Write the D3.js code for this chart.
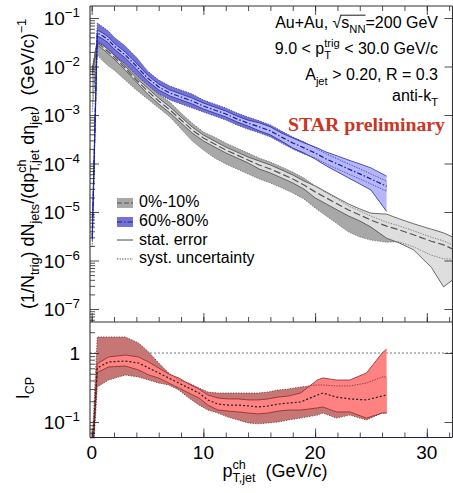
<!DOCTYPE html>
<html>
<head>
<meta charset="utf-8">
<script src="https://cdn.jsdelivr.net/npm/d3@7"></script>
<style>
body { margin: 0; background: #fff; }
svg { display: block; font-family: "Liberation Sans", Arial, Helvetica, sans-serif; }
text { white-space: pre; }
</style>
</head>
<body>
<svg id="fig" width="453" height="493"></svg>
<script>
// ---- values ----
// 60%-80% (blue)
var ptB = [0.05, 0.5, 1, 1.5, 2, 3, 4, 5, 6, 7, 8, 9, 10, 11, 12, 13, 14, 15, 16, 17, 18, 19, 20, 21, 22, 23, 24, 25, 26.4];
var blueVal = [2.9e-6, 0.0491, 0.0426, 0.0352, 0.0265, 0.0173, 0.0102, 0.0058, 0.00378, 0.00284, 0.00235, 0.00194, 0.00153, 0.00127, 0.00105, 8.3e-4, 6.8e-4, 5.7e-4, 4.7e-4, 3.5e-4, 2.65e-4, 2.1e-4, 1.65e-4, 1.24e-4, 9.8e-5, 7.7e-5, 6.1e-5, 4.8e-5, 3.4e-5];
// error bands given as multiplicative factors (hi = v*up, lo = v/dn)
var blueSys = [1.53, 1.61, 1.53, 1.53, 1.53, 1.53, 1.53, 1.39, 1.39, 1.39, 1.39, 1.39, 1.33, 1.33, 1.33, 1.33, 1.33, 1.33, 1.33, 1.33, 1.33, 1.33, 1.27, 1.27, 1.27, 1.27, 1.27, 1.27, 1.27];
var blueStatUp = [1.15, 1.15, 1.15, 1.15, 1.15, 1.15, 1.15, 1.15, 1.15, 1.15, 1.15, 1.15, 1.15, 1.15, 1.15, 1.15, 1.15, 1.21, 1.21, 1.21, 1.27, 1.27, 1.33, 1.39, 1.46, 1.53, 1.61, 1.69, 1.61];
var blueStatDn = [1.15, 1.15, 1.15, 1.15, 1.15, 1.15, 1.15, 1.15, 1.15, 1.15, 1.15, 1.15, 1.15, 1.15, 1.15, 1.15, 1.15, 1.21, 1.21, 1.21, 1.27, 1.27, 1.33, 1.39, 1.46, 1.53, 1.61, 1.69, 3.3];

// 0%-10% (gray)
var ptG = [0.05, 0.5, 1, 1.5, 2, 3, 4, 5, 6, 7, 8, 9, 10, 11, 12, 13, 14, 15, 16, 17, 18, 19, 20, 21, 22, 23, 24, 25, 26.4, 27.5, 28.8, 30.4, 31.5, 32.3];
var grayVal = [7.7e-3, 0.0305, 0.0252, 0.0199, 0.0157, 0.0093, 0.00527, 0.00313, 0.00194, 0.00127, 7.9e-4, 4.9e-4, 3.36e-4, 2.52e-4, 1.90e-4, 1.50e-4, 1.18e-4, 9.3e-5, 7.7e-5, 6.1e-5, 4.8e-5, 3.6e-5, 2.6e-5, 1.95e-5, 1.46e-5, 1.10e-5, 8.7e-6, 6.8e-6, 5.1e-6, 4.3e-6, 3.4e-6, 2.5e-6, 2.1e-6, 1.73e-6];
var graySysUp = [1.27, 1.15, 1.15, 1.15, 1.15, 1.21, 1.27, 1.33, 1.39, 1.46, 1.39, 1.39, 1.33, 1.39, 1.39, 1.39, 1.39, 1.39, 1.39, 1.39, 1.39, 1.39, 1.33, 1.27, 1.27, 1.21, 1.21, 1.21, 1.21, 1.21, 1.21, 1.21, 1.21, 1.21];
var graySysDn = [6.7, 1.77, 1.94, 1.94, 1.85, 1.77, 1.61, 1.46, 1.39, 1.39, 1.53, 1.69, 1.77, 1.94, 1.94, 1.94, 1.94, 1.94, 1.94, 1.94, 1.94, 1.94, 2.14, 2.35, 2.58, 2.84, 2.84, 2.58, 2.14, 1.77, 1.77, 1.94, 1.94, 1.61];
var grayStatUp = [1.10, 1.10, 1.10, 1.10, 1.10, 1.10, 1.10, 1.15, 1.15, 1.15, 1.15, 1.15, 1.15, 1.15, 1.15, 1.15, 1.15, 1.21, 1.21, 1.21, 1.21, 1.21, 1.33, 1.33, 1.33, 1.33, 1.33, 1.39, 1.77, 1.69, 1.69, 1.77, 1.77, 1.77];
var grayStatDn = [1.10, 1.10, 1.10, 1.10, 1.10, 1.10, 1.10, 1.15, 1.15, 1.15, 1.15, 1.15, 1.15, 1.15, 1.15, 1.15, 1.15, 1.21, 1.21, 1.21, 1.21, 1.21, 1.33, 1.33, 1.33, 1.33, 1.33, 1.39, 1.77, 1.85, 2.04, 3.44, 7.36, 4.36];

// I_CP (red)
var ptR = [0.05, 0.5, 1.5, 3, 4.2, 5.1, 6, 6.9, 7.8, 8.7, 9.6, 10.4, 11.3, 12.2, 13.1, 14, 14.9, 15.8, 16.7, 17.6, 18.7, 20.2, 20.7, 21.9, 23.1, 24.6, 26, 26.4];
var icpVal = [0.03, 0.607, 0.741, 0.765, 0.716, 0.607, 0.513, 0.434, 0.367, 0.311, 0.263, 0.209, 0.182, 0.176, 0.176, 0.171, 0.165, 0.171, 0.182, 0.188, 0.195, 0.246, 0.263, 0.230, 0.216, 0.209, 0.238, 0.246];
var icpStatHi = [0.035, 0.70, 0.875, 0.935, 0.875, 0.741, 0.607, 0.496, 0.434, 0.355, 0.301, 0.246, 0.223, 0.216, 0.216, 0.209, 0.209, 0.216, 0.230, 0.238, 0.263, 0.406, 0.434, 0.406, 0.406, 0.513, 1.0, 1.14];
var icpStatLo = [0.025, 0.52, 0.627, 0.648, 0.567, 0.480, 0.434, 0.367, 0.311, 0.263, 0.223, 0.176, 0.149, 0.144, 0.140, 0.135, 0.131, 0.135, 0.144, 0.149, 0.149, 0.160, 0.165, 0.140, 0.140, 0.114, 0.135, 0.135];
var icpSysHi = [0.05, 1.705, 1.705, 1.705, 1.396, 1.034, 0.716, 0.513, 0.406, 0.367, 0.311, 0.272, 0.263, 0.263, 0.263, 0.263, 0.263, 0.272, 0.291, 0.301, 0.322, 0.344, 0.344, 0.333, 0.333, 0.367, 0.449, 0.449];
var icpSysLo = [0.02, 0.322, 0.406, 0.480, 0.449, 0.406, 0.367, 0.344, 0.291, 0.223, 0.176, 0.149, 0.135, 0.118, 0.107, 0.097, 0.094, 0.097, 0.100, 0.107, 0.114, 0.126, 0.135, 0.114, 0.126, 0.107, 0.135, 0.135];

var xMajor = [0, 10, 20, 30];
var xMinor = d3.range(0, 33, 2);
var topDecades = [-7, -6, -5, -4, -3, -2, -1];

// ---- layout ----
var svg = d3.select("#fig");
var L = 90, R = 452.5, T1 = 6, B1 = 322, B2 = 437.5;

var x = d3.scaleLinear().domain([-0.15, 32.3]).range([L, R]);
var yTop = d3.scaleLog()
    .domain([Math.pow(10, -1 - (B1 - 18) / 48.5), Math.pow(10, -1 + (18 - T1) / 48.5)])
    .range([B1, T1]);
var yBot = d3.scaleLog()
    .domain([Math.pow(10, -(B2 - 353) / 69), Math.pow(10, (353 - B1) / 69)])
    .range([B2, B1]);

var defs = svg.append("defs");
defs.append("clipPath").attr("id", "cTop").append("rect")
    .attr("x", L).attr("y", T1).attr("width", R - L).attr("height", B1 - T1);
defs.append("clipPath").attr("id", "cBot").append("rect")
    .attr("x", L).attr("y", B1).attr("width", R - L).attr("height", B2 - B1);

// superscript / subscript helper, parts = [text, mode(1 sup,-1 sub), stackedUnderPrevious]
function rich(t, parts, fs) {
    var cur = 0, prevLen = 0, carry = 0;
    parts.forEach(function (p) {
        var m = p[1] || 0;
        var target = m > 0 ? -0.42 * fs : m < 0 ? 0.3 * fs : 0;
        var ts = t.append("tspan")
            .attr("font-size", m ? fs * 0.7 : fs)
            .attr("dy", target - cur)
            .text(p[0]);
        cur = target;
        var len = ts.node().getComputedTextLength();
        if (p[2]) {
            ts.attr("dx", -prevLen);
            carry = Math.max(0, prevLen - len);
        } else {
            if (carry) ts.attr("dx", carry);
            carry = 0;
        }
        prevLen = len;
    });
    return t;
}

function makeRows(pt, v, sUp, sDn, tUp, tDn) {
    return pt.map(function (p, i) {
        return { pt: p, v: v[i], sHi: v[i] * sUp[i], sLo: v[i] / sDn[i], tHi: v[i] * tUp[i], tLo: v[i] / tDn[i] };
    });
}

function drawBand(g, rows, y, st) {
    var area = function (lo, hi) {
        return d3.area().x(function (d) { return x(d.pt); })
            .y0(function (d) { return y(d[lo]); })
            .y1(function (d) { return y(d[hi]); });
    };
    var line = function (k) {
        return d3.line().x(function (d) { return x(d.pt); }).y(function (d) { return y(d[k]); });
    };
    g.append("path").datum(rows).attr("d", area("sLo", "sHi")).attr("fill", st.sysFill);
    g.append("path").datum(rows).attr("d", area("tLo", "tHi")).attr("fill", st.statFill);
    ["tLo", "tHi"].forEach(function (k) {
        g.append("path").datum(rows).attr("d", line(k)).attr("fill", "none")
            .attr("stroke", st.statLine).attr("stroke-width", 0.8);
    });
    ["sLo", "sHi"].forEach(function (k) {
        g.append("path").datum(rows).attr("d", line(k)).attr("fill", "none")
            .attr("stroke", st.sysLine).attr("stroke-width", 0.8).attr("stroke-dasharray", "1.3,1.3");
    });
    g.append("path").datum(rows).attr("d", line("v")).attr("fill", "none")
        .attr("stroke", st.line).attr("stroke-width", st.lw).attr("stroke-dasharray", st.dash);
}

var grayStyle = { sysFill: "#a8a8a8", statFill: "#dedede", statLine: "#4a4a4a", sysLine: "#6a6a6a", line: "#555", lw: 1.2, dash: "7,3" };
var blueStyle = { sysFill: "rgba(96,96,208,0.88)", statFill: "#b6b6fa", statLine: "#2a2a9c", sysLine: "#2f2fb0", line: "#1a1a98", lw: 1.2, dash: "5,2,1.5,2" };
var redStyle = { sysFill: "#c77676", statFill: "#ff8282", statLine: "#8e2828", sysLine: "#6e2a2a", line: "#222", lw: 1.2, dash: "2,2" };

// ---- top panel ----
var gTop = svg.append("g").attr("clip-path", "url(#cTop)");
drawBand(gTop, makeRows(ptG, grayVal, graySysUp, graySysDn, grayStatUp, grayStatDn), yTop, grayStyle);
drawBand(gTop, makeRows(ptB, blueVal, blueSys, blueSys, blueStatUp, blueStatDn), yTop, blueStyle);

// ---- bottom panel ----
var gBot = svg.append("g").attr("clip-path", "url(#cBot)");
gBot.append("line").attr("x1", L).attr("x2", R).attr("y1", yBot(1)).attr("y2", yBot(1))
    .attr("stroke", "#777").attr("stroke-width", 1).attr("stroke-dasharray", "2,2");
var icpRows = ptR.map(function (p, i) {
    return { pt: p, v: icpVal[i], sHi: icpSysHi[i], sLo: icpSysLo[i], tHi: icpStatHi[i], tLo: icpStatLo[i] };
});
drawBand(gBot, icpRows, yBot, redStyle);

// ---- axes / ticks ----
function noDomain(g) { g.select(".domain").remove(); g.selectAll("text").remove(); }
function xTicks(yPos, up) {
    var ax = up ? d3.axisTop : d3.axisBottom;
    svg.append("g").attr("transform", "translate(0," + yPos + ")")
        .call(ax(x).tickValues(xMinor).tickSize(5)).call(noDomain);
    svg.append("g").attr("transform", "translate(0," + yPos + ")")
        .call(ax(x).tickValues(xMajor).tickSize(9)).call(noDomain);
}
xTicks(B1, true);
xTicks(T1, false);
xTicks(B2, true);

function yTicks(y) {
    var all = y.ticks();
    var major = all.filter(function (v) { return Math.abs(Math.log10(v) - Math.round(Math.log10(v))) < 1e-6; });
    var minor = all.filter(function (v) { return major.indexOf(v) < 0; });
    svg.append("g").attr("transform", "translate(" + L + ",0)")
        .call(d3.axisRight(y).tickValues(minor).tickSize(5)).call(noDomain);
    svg.append("g").attr("transform", "translate(" + L + ",0)")
        .call(d3.axisRight(y).tickValues(major).tickSize(9)).call(noDomain);
    svg.append("g").attr("transform", "translate(" + R + ",0)")
        .call(d3.axisLeft(y).tickValues(major).tickSize(8)).call(noDomain);
}
yTicks(yTop);
yTicks(yBot);

svg.selectAll(".tick line").attr("stroke", "#222").attr("stroke-width", 0.8);

// frame
var frame = svg.append("g").attr("fill", "none").attr("stroke-width", 1.1);
frame.append("line").attr("x1", L).attr("x2", R).attr("y1", T1).attr("y2", T1).attr("stroke", "#333");
frame.append("line").attr("x1", L).attr("x2", R).attr("y1", B1).attr("y2", B1).attr("stroke", "#333");
frame.append("line").attr("x1", L).attr("x2", R).attr("y1", B2).attr("y2", B2).attr("stroke", "#1e1e5a");
frame.append("line").attr("x1", L).attr("x2", L).attr("y1", T1).attr("y2", B2).attr("stroke", "#333");
frame.append("line").attr("x1", R).attr("x2", R).attr("y1", T1).attr("y2", B2).attr("stroke", "#333");

// tick labels
var tfs = 19;
topDecades.forEach(function (k) {
    rich(svg.append("text").attr("x", 80).attr("y", yTop(Math.pow(10, k)) + 7).attr("text-anchor", "end"),
        [["10"], ["\u2212" + (-k), 1]], tfs);
});
svg.append("text").attr("x", 80).attr("y", yBot(1) + 7).attr("text-anchor", "end")
    .attr("font-size", tfs).text("1");
rich(svg.append("text").attr("x", 80).attr("y", yBot(0.1) + 7).attr("text-anchor", "end"),
    [["10"], ["\u22121", 1]], tfs);
xMajor.forEach(function (v) {
    svg.append("text").attr("x", x(v)).attr("y", 459).attr("text-anchor", "middle")
        .attr("font-size", tfs).text(v);
});

// axis titles
rich(svg.append("text").attr("x", 34).attr("y", 164).attr("text-anchor", "middle")
    .attr("transform", "rotate(-90,34,164)"),
    [["(1/N"], ["trig", -1], [") dN"], ["jets", -1], ["/(dp"], ["ch", 1], ["T,jet", -1, true],
     [" d\u03b7"], ["jet", -1], [")  (GeV/c)"], ["\u22121", 1]], 18);
rich(svg.append("text").attr("x", 29).attr("y", 388).attr("text-anchor", "middle")
    .attr("transform", "rotate(-90,29,388)"),
    [["I"], ["CP", -1]], 18);
rich(svg.append("text").attr("x", 275).attr("y", 477).attr("text-anchor", "middle"),
    [["p"], ["ch", 1], ["T,jet", -1, true], ["  (GeV/c)"]], 18);

// annotations
var afs = 16;
var t1 = rich(svg.append("text").attr("x", 438).attr("y", 28).attr("text-anchor", "end"),
    [["Au+Au, \u221a"], ["s"], ["NN", -1], ["=200 GeV"]], afs);
var n1 = t1.node();
var sx0 = n1.getStartPositionOfChar(8).x, sx1 = n1.getEndPositionOfChar(10).x;
svg.append("line").attr("x1", sx0 - 1).attr("x2", sx1).attr("y1", 28 - afs * 0.8).attr("y2", 28 - afs * 0.8)
    .attr("stroke", "#000").attr("stroke-width", 0.9);
rich(svg.append("text").attr("x", 438).attr("y", 54).attr("text-anchor", "end"),
    [["9.0 < p"], ["trig", 1], ["T", -1, true], [" < 30.0 GeV/c"]], afs);
rich(svg.append("text").attr("x", 438).attr("y", 80).attr("text-anchor", "end"),
    [["A"], ["jet", -1], [" > 0.20, R = 0.3"]], afs);
rich(svg.append("text").attr("x", 438).attr("y", 101).attr("text-anchor", "end"),
    [["anti-k"], ["T", -1]], afs);
svg.append("text").attr("x", 445).attr("y", 131).attr("text-anchor", "end")
    .attr("font-family", "'Liberation Serif', 'DejaVu Serif', serif").attr("font-weight", "bold")
    .attr("font-size", 19.8).attr("fill", "#cc3524").text("STAR preliminary");

// legend
var lg = svg.append("g");
var lx = 117, lw = 16, ltx = 139;
lg.append("rect").attr("x", lx).attr("y", 198).attr("width", lw).attr("height", 10).attr("fill", grayStyle.sysFill);
lg.append("line").attr("x1", lx).attr("x2", lx + lw).attr("y1", 203).attr("y2", 203)
    .attr("stroke", grayStyle.line).attr("stroke-width", 1.2).attr("stroke-dasharray", "5,2");
lg.append("rect").attr("x", lx).attr("y", 217).attr("width", lw).attr("height", 10).attr("fill", blueStyle.sysFill);
lg.append("line").attr("x1", lx).attr("x2", lx + lw).attr("y1", 222).attr("y2", 222)
    .attr("stroke", blueStyle.line).attr("stroke-width", 1.2).attr("stroke-dasharray", blueStyle.dash);
lg.append("line").attr("x1", lx).attr("x2", lx + lw).attr("y1", 240).attr("y2", 240)
    .attr("stroke", "#333").attr("stroke-width", 0.9);
lg.append("line").attr("x1", lx).attr("x2", lx + lw).attr("y1", 259).attr("y2", 259)
    .attr("stroke", "#333").attr("stroke-width", 0.9).attr("stroke-dasharray", "1.3,1.3");
[["0%-10%", 207], ["60%-80%", 226], ["stat. error", 245], ["syst. uncertainty", 263]].forEach(function (r) {
    lg.append("text").attr("x", ltx).attr("y", r[1]).attr("font-size", afs).text(r[0]);
});
</script>
</body>
</html>
